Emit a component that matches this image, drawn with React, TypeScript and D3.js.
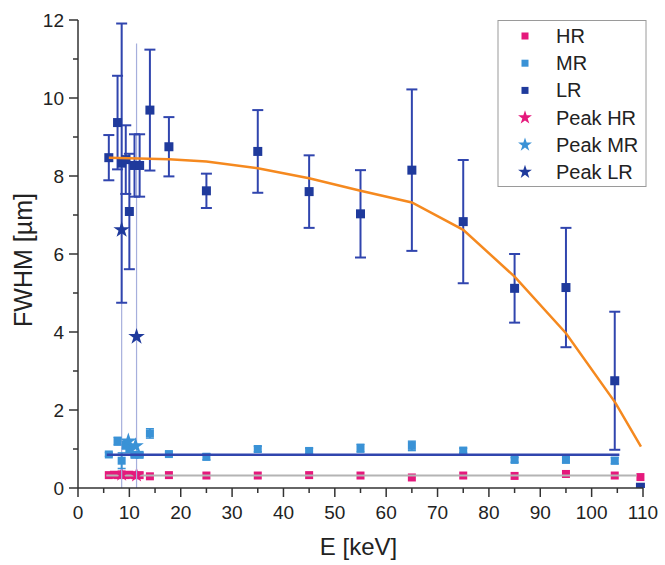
import React from "react";
import * as d3 from "d3";

// ---------- data ----------
const lrE = [6, 7.7, 8.5, 9.3, 10, 11, 12, 14, 17.7, 25, 35, 45, 55, 65, 75, 85, 95, 104.5, 109.5];
const lrV = [8.47, 9.37, 8.33, 8.42, 7.09, 8.27, 8.27, 9.69, 8.75, 7.62, 8.63, 7.6, 7.03, 8.15, 6.83, 5.12, 5.14, 2.75, 0.02];
const lrErr = [0.58, 1.2, 3.58, 0.88, 1.48, 0.8, 0.8, 1.55, 0.76, 0.44, 1.06, 0.93, 1.12, 2.07, 1.58, 0.88, 1.53, 1.77, 0];

const mrE = [6, 7.7, 8.5, 9.3, 10, 11, 12, 14, 17.7, 25, 35, 45, 55, 65, 75, 85, 95, 104.5];
const mrV = [0.86, 1.2, 0.7, 1.1, 1.0, 0.85, 0.85, 1.4, 0.87, 0.8, 1.0, 0.95, 1.02, 1.08, 0.96, 0.72, 0.72, 0.7];
const mrErr = [0.05, 0.1, 0.2, 0.1, 0.1, 0.05, 0.05, 0.12, 0.05, 0.08, 0.07, 0.07, 0.1, 0.12, 0.06, 0.06, 0.06, 0.08];

const hrE = [6, 7, 7.7, 8.5, 9.3, 10, 11, 12, 14, 17.7, 25, 35, 45, 55, 65, 75, 85, 95, 104.5, 109.5];
const hrV = [0.33, 0.34, 0.33, 0.35, 0.33, 0.34, 0.33, 0.33, 0.3, 0.33, 0.32, 0.32, 0.33, 0.32, 0.27, 0.32, 0.31, 0.36, 0.32, 0.28];

const peakHrE = [8.5, 11.4];
const peakHrV = [0.35, 0.33];
const peakMrE = [9.8, 11.2];
const peakMrV = [1.2, 1.08];
const peakLrE = [8.5, 11.4];
const peakLrV = [6.62, 3.88];
const peakLrLo = [0, 0];
const peakLrHi = [11.9, 11.4];

const fitE = [6, 17.7, 25, 35, 45, 55, 65, 75, 85, 95, 104.6, 109.6];
const fitV = [8.47, 8.43, 8.37, 8.2, 7.94, 7.62, 7.32, 6.62, 5.42, 3.97, 2.19, 1.06];

const mrMeanE = [5.6, 105.4];
const mrMean = 0.855;
const hrMeanE = [5.5, 108.8];
const hrMean = 0.32;

const legendLabels = ["HR", "MR", "LR", "Peak HR", "Peak MR", "Peak LR"];

// ---------- styles ----------
const C_HR = "#e5197c";
const C_MR = "#3a92d6";
const C_LR = "#1f3a9c";
const C_LR_ERR = "#3045ae";
const C_FIT = "#f5891f";
const FONT = "'Liberation Sans', Arial, sans-serif";

const W = 665, H = 565;
const x = d3.scaleLinear().domain([0, 110]).range([78, 643]);
const y = d3.scaleLinear().domain([0, 12]).range([488, 20]);

const star = d3.symbol().type(d3.symbolStar);

export default function App() {
  const xMajor = d3.range(0, 111, 10);
  const xMinor = d3.range(5, 110, 10);
  const yMajor = d3.range(0, 13, 2);
  const yMinor = d3.range(1, 12, 2);
  const fitLine = d3.line<number>().x((_, i) => x(fitE[i])).y((d) => y(d));
  const sq = (cx: number, cy: number, s: number, fill: string, key: string) => (
    <rect key={key} x={cx - s / 2} y={cy - s / 2} width={s} height={s} fill={fill} />
  );
  const legendColors = [C_HR, C_MR, C_LR, C_HR, C_MR, C_LR];

  return (
    <svg width={W} height={H} style={{ position: "absolute", left: 0, top: 0, background: "#fff" }} fontFamily={FONT}>
      <defs>
        <clipPath id="plot">
          <rect x={x(0)} y={y(12) - 2} width={x(110) - x(0) + 6} height={y(0) - y(12) + 2} />
        </clipPath>
      </defs>

      <g clipPath="url(#plot)">
        {/* HR squares */}
        {hrE.map((e, i) => sq(x(e), y(hrV[i]), 8, C_HR, "hr" + i))}
        {/* HR mean line */}
        <line x1={x(hrMeanE[0])} x2={x(hrMeanE[1])} y1={y(hrMean)} y2={y(hrMean)} stroke="#b4b4b4" strokeWidth={2} />
        {peakHrE.map((e, i) => (
          <path key={"phr" + i} d={star.size(70)()!} transform={`translate(${x(e)},${y(peakHrV[i])})`} fill={C_HR} />
        ))}

        {/* pale peak LR error lines */}
        {peakLrE.map((e, i) => (
          <line key={"ple" + i} x1={x(e)} x2={x(e)} y1={y(peakLrLo[i])} y2={y(peakLrHi[i])} stroke="#a6afdc" strokeWidth={1.2} />
        ))}

        {/* MR error + squares */}
        {mrE.map((e, i) => (
          <g key={"mr" + i}>
            <line x1={x(e)} x2={x(e)} y1={y(mrV[i] - mrErr[i])} y2={y(mrV[i] + mrErr[i])} stroke={C_MR} strokeWidth={2} />
            <line x1={x(e) - 4} x2={x(e) + 4} y1={y(mrV[i] - mrErr[i])} y2={y(mrV[i] - mrErr[i])} stroke={C_MR} strokeWidth={1.5} />
            <line x1={x(e) - 4} x2={x(e) + 4} y1={y(mrV[i] + mrErr[i])} y2={y(mrV[i] + mrErr[i])} stroke={C_MR} strokeWidth={1.5} />
            {sq(x(e), y(mrV[i]), 8, C_MR, "mrs" + i)}
          </g>
        ))}
        {peakMrE.map((e, i) => (
          <path key={"pmr" + i} d={star.size(85)()!} transform={`translate(${x(e)},${y(peakMrV[i])})`} fill={C_MR} />
        ))}
        {/* MR mean line */}
        <line x1={x(mrMeanE[0])} x2={x(mrMeanE[1])} y1={y(mrMean)} y2={y(mrMean)} stroke={C_LR_ERR} strokeWidth={2.5} />

        {/* LR error bars */}
        {lrE.map((e, i) =>
          lrErr[i] > 0 ? (
            <g key={"lre" + i} stroke={C_LR_ERR} strokeWidth={2}>
              <line x1={x(e)} x2={x(e)} y1={y(lrV[i] - lrErr[i])} y2={y(lrV[i] + lrErr[i])} />
              <line x1={x(e) - 5.5} x2={x(e) + 5.5} y1={y(lrV[i] - lrErr[i])} y2={y(lrV[i] - lrErr[i])} />
              <line x1={x(e) - 5.5} x2={x(e) + 5.5} y1={y(lrV[i] + lrErr[i])} y2={y(lrV[i] + lrErr[i])} />
            </g>
          ) : null
        )}
        {lrE.map((e, i) => sq(x(e), y(lrV[i]), 9, C_LR, "lr" + i))}
        {peakLrE.map((e, i) => (
          <path key={"plr" + i} d={star.size(85)()!} transform={`translate(${x(e)},${y(peakLrV[i])})`} fill={C_LR} />
        ))}

        {/* fit */}
        <path d={fitLine(fitV)!} fill="none" stroke={C_FIT} strokeWidth={2.5} />
      </g>

      {/* axes */}
      <g stroke="#333" strokeWidth={1.5}>
        <line x1={x(0)} x2={x(0)} y1={y(0)} y2={y(12)} />
        <line x1={x(0)} x2={x(110)} y1={y(0)} y2={y(0)} />
        {yMajor.map((v) => <line key={"ym" + v} x1={x(0) - 9} x2={x(0)} y1={y(v)} y2={y(v)} />)}
        {yMinor.map((v) => <line key={"yn" + v} x1={x(0) - 5} x2={x(0)} y1={y(v)} y2={y(v)} />)}
        {xMajor.map((v) => <line key={"xm" + v} x1={x(v)} x2={x(v)} y1={y(0)} y2={y(0) + 9} />)}
        {xMinor.map((v) => <line key={"xn" + v} x1={x(v)} x2={x(v)} y1={y(0)} y2={y(0) + 5} />)}
      </g>
      <g fontSize={19} fill="#222">
        {yMajor.map((v) => (
          <text key={"yl" + v} x={x(0) - 14} y={y(v)} textAnchor="end" dominantBaseline="central">{v}</text>
        ))}
        {xMajor.map((v) => (
          <text key={"xl" + v} x={x(v)} y={y(0) + 31} textAnchor="middle">{v}</text>
        ))}
      </g>
      <text x={(x(0) + x(110)) / 2 - 2} y={555} textAnchor="middle" fontSize={24} fill="#222">E [keV]</text>
      <text transform={`translate(32,${(y(0) + y(12)) / 2 + 6}) rotate(-90)`} textAnchor="middle" fontSize={25} fill="#222">FWHM [µm]</text>

      {/* legend */}
      <g>
        <rect x={498} y={20.5} width={148} height={166} fill="#fff" stroke="#9a9a9a" strokeWidth={1} />
        {legendLabels.map((lab, i) => {
          const cy = 36 + i * 27.2;
          return (
            <g key={"lg" + i}>
              {i < 3 ? (
                <rect x={525 - 3.5} y={cy - 3.5} width={7} height={7} fill={legendColors[i]} />
              ) : (
                <path d={star.size(60)()!} transform={`translate(525,${cy})`} fill={legendColors[i]} />
              )}
              <text x={556} y={cy} dominantBaseline="central" fontSize={20} fill="#222">{lab}</text>
            </g>
          );
        })}
      </g>
    </svg>
  );
}
